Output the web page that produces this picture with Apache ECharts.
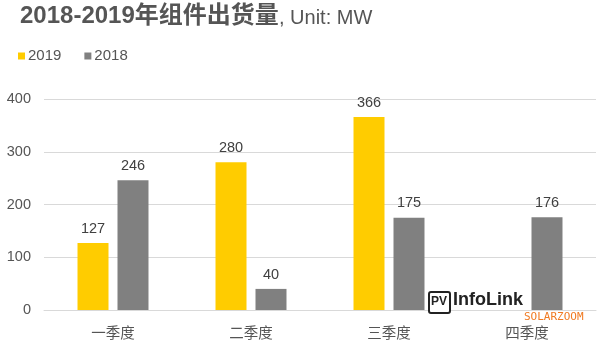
<!DOCTYPE html>
<html><head><meta charset="utf-8">
<script src="https://cdn.jsdelivr.net/npm/echarts@6/dist/echarts.min.js"></script>
<style>html,body{margin:0;padding:0;background:#fff}#c{width:600px;height:344px}</style>
</head><body><div id="c"></div>
<script>
const categories = ['一季度','二季度','三季度','四季度'];
const s2019 = [127, 280, 366, null];
const s2018 = [246, 40, 175, 176];
const yTicks = [0, 100, 200, 300, 400];

const chart = echarts.init(document.getElementById('c'));
const font = '"Liberation Sans", "Noto Sans CJK SC", sans-serif';
chart.setOption({
  animation: false,
  textStyle: { fontFamily: font },
  title: [
    { left: 20, top: 4, padding: 0, text: '2018-2019年组件出货量',
      textStyle: { fontSize: 24, fontWeight: 'bold', color: '#555', fontFamily: font, lineHeight: 24 } },
    { left: 279, top: 8, padding: 0, text: ', Unit: MW',
      textStyle: { fontSize: 20, fontWeight: 'normal', color: '#555', fontFamily: font, lineHeight: 20 } }
  ],
  legend: {
    left: 18, top: 48.5, padding: 0,
    itemWidth: 7, itemHeight: 7, itemGap: 23,
    icon: 'rect',
    textStyle: { fontSize: 15, color: '#555', padding: [0,0,0,-2], fontFamily: font },
    data: ['2019', '2018']
  },
  grid: { left: 44, right: 4, top: 99, bottom: 34 },
  xAxis: {
    type: 'category', data: categories,
    axisTick: { show: false },
    axisLine: { lineStyle: { color: '#d9d9d9' } },
    axisLabel: { fontSize: 14.5, color: '#555', margin: 17, fontFamily: font }
  },
  yAxis: {
    type: 'value', min: yTicks[0], max: yTicks[yTicks.length-1], interval: 100,
    axisLabel: { fontSize: 14.5, color: '#555', margin: 13, fontFamily: font },
    splitLine: { lineStyle: { color: '#d9d9d9' } },
    axisLine: { show: false }, axisTick: { show: false }
  },
  series: [
    { name: '2019', type: 'bar', data: s2019, barWidth: 31, barGap: '29%',
      itemStyle: { color: '#FFCC00' },
      label: { show: true, position: 'top', distance: 7, fontSize: 14.5, color: '#404040', fontFamily: font } },
    { name: '2018', type: 'bar', data: s2018, barWidth: 31,
      itemStyle: { color: '#808080' },
      label: { show: true, position: 'top', distance: 7, fontSize: 14.5, color: '#404040', fontFamily: font } }
  ],
  graphic: [
    { type: 'rect', left: 428, top: 291, z: 100, shape: { width: 21, height: 21, r: 2 },
      style: { fill: '#fff', stroke: '#222', lineWidth: 2 } },
    { type: 'text', left: 431, top: 296, z: 101, style: { text: 'PV', font: 'bold 12px "Liberation Sans", sans-serif', fill: '#222' } },
    { type: 'text', left: 453, top: 291, z: 101, style: { text: 'InfoLink', font: 'bold 18px "Liberation Sans", sans-serif', fill: '#222' } },
    { type: 'text', left: 524, top: 312, z: 101, style: { text: 'SOLARZOOM', font: '11px "DejaVu Sans Mono", monospace', fill: '#F07A22' } }
  ]
});
</script></body></html>
